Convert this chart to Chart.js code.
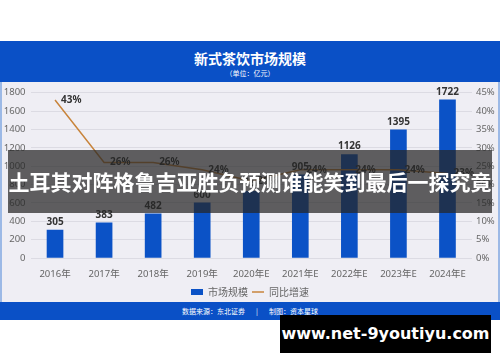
<!DOCTYPE html>
<html>
<head>
<meta charset="utf-8">
<script src="https://cdn.jsdelivr.net/npm/chart.js@4"></script>
<style>
  html, body { margin: 0; padding: 0; background: #fff; }
  #wrap { position: relative; width: 500px; height: 362px; overflow: hidden; font-family: "Noto Sans CJK SC", "Noto Sans", sans-serif; }
  #header { position: absolute; left: 0; top: 41px; width: 500px; height: 41px; background: #0a50c6; color: #fff; text-align: center; }
  #header .t { position: absolute; left: 0; right: 0; top: 9px; font-size: 14px; font-weight: bold; line-height: 16px; }
  #header .s { position: absolute; left: 0; right: 0; top: 28px; font-size: 7px; line-height: 9px; }
  #panel { position: absolute; left: 0; top: 82px; width: 496px; height: 220px; background: #efeef4; border: 2px solid #9cb9e6; border-top: none; border-bottom: none; }
  #chartBox { position: absolute; left: 0; top: 82px; width: 500px; height: 225px; }
  #footer { position: absolute; left: 0; top: 302px; width: 500px; height: 18px; background: #0a50c6; color: #fff; font-size: 7px; line-height: 18px; text-align: center; }
  #banner { position: absolute; left: 8px; top: 150px; width: 484px; height: 63px; background: rgba(38, 38, 38, 0.72); color: #fff; font-size: 21px; font-weight: bold; line-height: 63px; white-space: nowrap; text-align: center; }
  #mark { position: absolute; left: 280px; top: 315px; width: 211px; height: 38px; background: #000; color: #fff; font-family: "DejaVu Sans", sans-serif; font-size: 16px; font-weight: bold; line-height: 38px; text-align: center; }
</style>
</head>
<body>
<div id="wrap">
  <div id="header">
    <div class="t">新式茶饮市场规模</div>
    <div class="s">（单位：亿元）</div>
  </div>
  <div id="panel"></div>
  <div id="chartBox"><canvas id="chart" width="500" height="225"></canvas></div>
  <div id="footer">数据来源：东北证券&nbsp;&nbsp;&nbsp;&nbsp;&nbsp;&nbsp;&nbsp;|&nbsp;&nbsp;&nbsp;&nbsp;&nbsp;&nbsp;&nbsp;制图：资本星球</div>
  <div id="banner">土耳其对阵格鲁吉亚胜负预测谁能笑到最后一探究竟</div>
  <div id="mark">www.net-9youtiyu.com</div>
</div>
<script>
const years = ['2016年', '2017年', '2018年', '2019年', '2020年E', '2021年E', '2022年E', '2023年E', '2024年E'];
const marketSize = [305, 383, 482, 600, 727, 905, 1126, 1395, 1722];
const growthRate = [43, 26, 26, 24, 21, 24, 24, 24, 23];
const sizeTicks = [0, 200, 400, 600, 800, 1000, 1200, 1400, 1600, 1800];
const rateTicks = [0, 5, 10, 15, 20, 25, 30, 35, 40, 45];

const numFont = '"Noto Sans", "Noto Sans CJK SC", sans-serif';

// value labels above bars and beside the growth line
const valueLabels = {
  id: 'valueLabels',
  afterDatasetsDraw(chart) {
    const ctx = chart.ctx;
    ctx.save();
    ctx.fillStyle = '#333';
    ctx.font = 'bold 10px ' + numFont;

    chart.getDatasetMeta(0).data.forEach((bar, i) => {
      ctx.textAlign = 'center';
      ctx.textBaseline = 'bottom';
      ctx.fillText(marketSize[i], bar.x, bar.y - 3);
    });

    chart.getDatasetMeta(1).data.forEach((pt, i) => {
      ctx.textAlign = 'left';
      ctx.textBaseline = 'middle';
      ctx.fillText(growthRate[i] + '%', pt.x + 6, pt.y);
    });
    ctx.restore();
  }
};

new Chart(document.getElementById('chart'), {
  data: {
    labels: years,
    datasets: [
      {
        type: 'bar',
        label: '市场规模',
        data: marketSize,
        backgroundColor: '#0b52c6',
        barThickness: 16,
        yAxisID: 'y',
        order: 2,
        pointStyle: 'rect'
      },
      {
        type: 'line',
        label: '同比增速',
        data: growthRate,
        borderColor: '#c8843c',
        backgroundColor: '#e8a050',
        borderWidth: 1.5,
        pointRadius: 0,
        tension: 0,
        yAxisID: 'y1',
        order: 1,
        pointStyle: 'line'
      }
    ]
  },
  options: {
    responsive: false,
    animation: false,
    layout: { padding: { top: 9, bottom: 0, left: 0, right: 0 } },
    scales: {
      x: {
        grid: { display: false },
        border: { display: false },
        ticks: { color: '#666', font: { size: 9.5, family: numFont }, padding: 3, maxRotation: 0 },
        afterFit(scale) { scale.height = 25; }
      },
      y: {
        position: 'left',
        min: 0,
        max: 1800,
        afterBuildTicks(scale) { scale.ticks = sizeTicks.map(v => ({ value: v })); },
        grid: { color: '#dcdbe3', drawTicks: false },
        border: { display: false },
        ticks: { color: '#666', font: { size: 9.5, family: numFont }, padding: 5, callback: v => String(v) },
        afterFit(scale) { scale.width = 30.5; }
      },
      y1: {
        position: 'right',
        min: 0,
        max: 45,
        afterBuildTicks(scale) { scale.ticks = rateTicks.map(v => ({ value: v })); },
        grid: { display: false, drawTicks: false },
        border: { display: false },
        ticks: { color: '#666', font: { size: 9.5, family: numFont }, padding: 4, callback: v => v + '%' },
        afterFit(scale) { scale.width = 28; }
      }
    },
    plugins: {
      legend: {
        position: 'bottom',
        labels: {
          usePointStyle: true,
          pointStyleWidth: 12,
          boxHeight: 6,
          padding: 4,
          color: '#666',
          font: { size: 10, family: '"Noto Sans CJK SC", sans-serif' },
          sort: (a, b) => a.datasetIndex - b.datasetIndex
        }
      },
      tooltip: { enabled: false }
    }
  },
  plugins: [valueLabels]
});
</script>
</body>
</html>
